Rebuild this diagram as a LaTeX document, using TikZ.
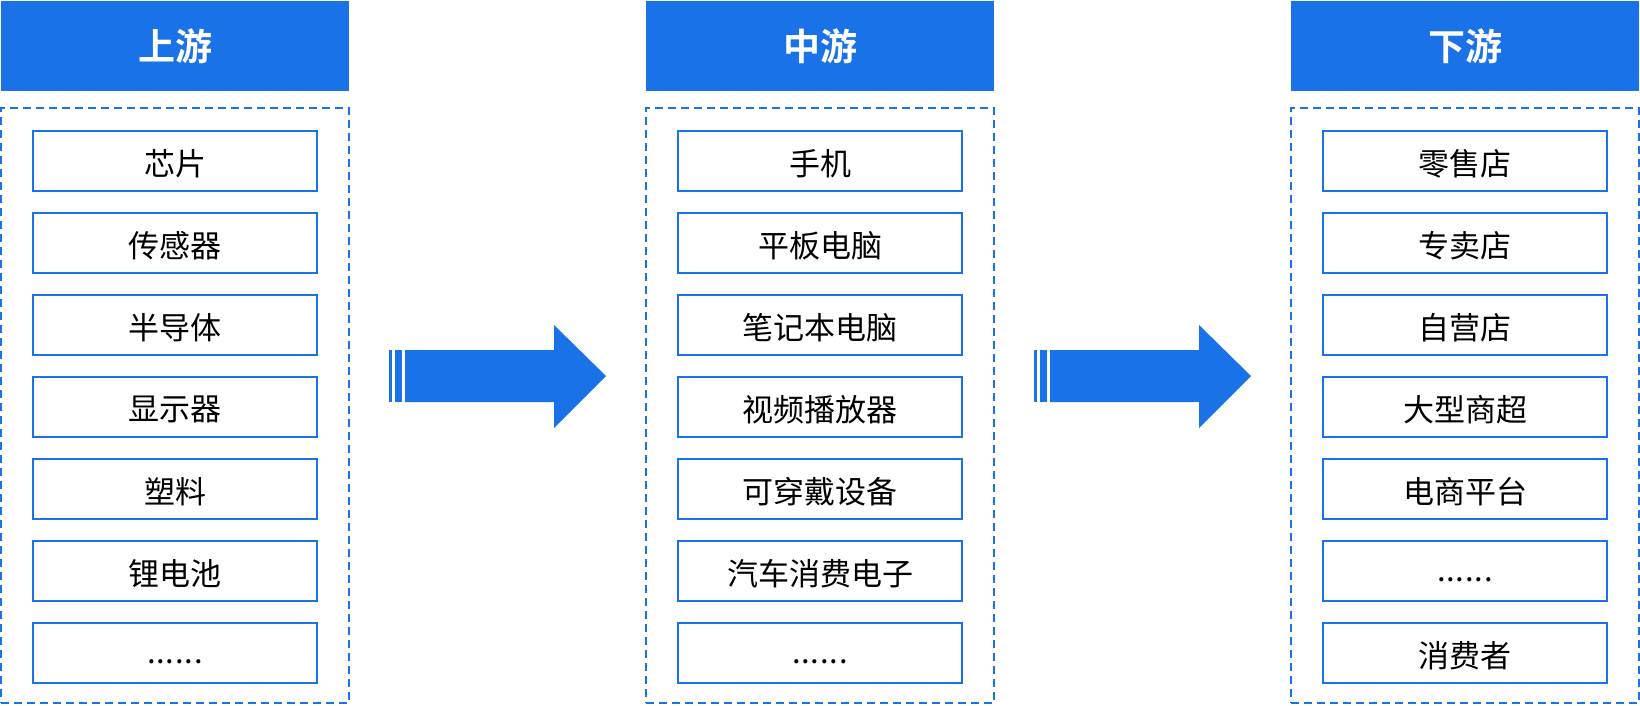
\documentclass[tikz,border=0pt]{standalone}
\usepackage{fontspec}
\newfontfamily\cjk{Noto Sans CJK SC}
\newfontfamily\cjkb{Noto Sans CJK SC Bold}
\definecolor{mainblue}{RGB}{26,114,232}
\newcommand{\sixdots}{\raisebox{-6pt}[\height][\depth]{.\kern0.8pt.\kern0.8pt.\kern0.8pt.\kern0.8pt.\kern0.8pt.}}
\newcommand{\itemtext}[1]{\raisebox{-3pt}[\height][\depth]{#1}}
\begin{document}
\begin{tikzpicture}[x=1pt,y=-1pt,
  headbox/.style={fill=mainblue,draw=none,minimum width=348pt,minimum height=90pt,inner sep=0pt,
    text=white,font=\cjkb\fontsize{37}{40}\selectfont},
  groupbox/.style={draw=mainblue,line width=2pt,dash pattern=on 8pt off 5pt,minimum width=348pt,minimum height=595pt,inner sep=0pt},
  itembox/.style={draw=mainblue,line width=2pt,fill=white,minimum width=284pt,minimum height=60pt,inner sep=0pt,
    text=black,font=\cjk\fontsize{31}{34}\selectfont},
  bigarrow/.style={fill=mainblue,draw=none}]
\useasboundingbox (0,0) rectangle (1640,705);
\fill[white] (0,0) rectangle (1640,705);
% columns
\foreach \c/\cx/\title in {1/175/上游,2/820/中游,3/1465/下游}{
  \node[headbox] (h\c) at (\cx,46) {\title};
  \node[groupbox] (g\c) at (\cx,405.5) {};
}
% items
\foreach \i/\t in {1/芯片,2/传感器,3/半导体,4/显示器,5/塑料,6/锂电池,7/\sixdots}{
  \node[itembox] (a\i) at (175,160.5+82*\i-82) {\itemtext{\t}};
}
\foreach \i/\t in {1/手机,2/平板电脑,3/笔记本电脑,4/视频播放器,5/可穿戴设备,6/汽车消费电子,7/\sixdots}{
  \node[itembox] (b\i) at (820,160.5+82*\i-82) {\itemtext{\t}};
}
\foreach \i/\t in {1/零售店,2/专卖店,3/自营店,4/大型商超,5/电商平台,6/\sixdots,7/消费者}{
  \node[itembox] (c\i) at (1465,160.5+82*\i-82) {\itemtext{\t}};
}
% arrows
\foreach \dx in {0,645}{
  \begin{scope}[xshift=\dx pt]
  \fill[bigarrow] (389,350) rectangle (392,402);
  \fill[bigarrow] (395,350) rectangle (402,402);
  \fill[bigarrow] (405,350) -- (554,350) -- (554,325) -- (606,376) -- (554,428) -- (554,402) -- (405,402) -- cycle;
  \end{scope}
}
\end{tikzpicture}
\end{document}
